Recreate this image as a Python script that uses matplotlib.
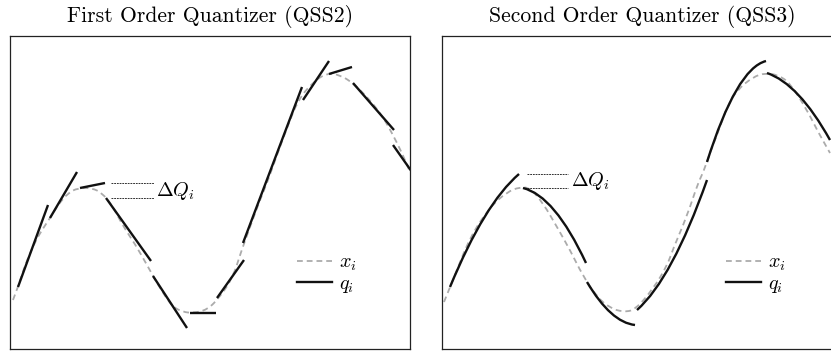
import matplotlib
matplotlib.use("Agg")
import matplotlib.pyplot as plt
from matplotlib.lines import Line2D
from matplotlib.path import Path
from matplotlib.patches import PathPatch

plt.rcParams["mathtext.fontset"] = "cm"

W, H = 831, 352

# --- QSS2: state x_i and first order quantized pieces q_i ---
qss2_x_t = [3, 8, 15, 25, 32, 40, 48, 58, 68, 82, 92, 102, 113, 125, 137, 147, 155,
            163, 173, 183, 197, 210, 223, 231, 240, 250, 257, 267, 277, 288, 303,
            317, 330, 343, 360, 373, 383, 392, 400]
qss2_x = [49, 62, 84, 107, 119, 131, 144, 156, 161, 161, 156, 144, 123, 105, 84, 66, 53,
          42, 37, 36, 39, 52, 72, 97, 122, 149, 166, 194, 221, 249, 267,
          276, 274, 266, 249, 232, 214, 196, 177]

# each piece: (t_start, t_end), (q_start, q_end)
qss2_seg_t = [(8, 38), (40, 67), (70, 95), (96, 141), (143, 177), (180, 206),
              (207, 234), (233, 292), (293, 319), (319, 342), (343, 384), (383, 402)]
qss2_seg_q = [(62, 144), (131, 177), (161, 166), (151, 88), (73, 21), (36, 36),
              (51, 89), (106, 262), (249, 288), (275, 282), (266, 219), (204, 177)]

# --- QSS3: state x_i and second order (parabolic) pieces q_i ---
qss3_x_t = [2, 11, 28, 48, 65, 78, 88, 101, 115, 128, 141, 155, 168, 181, 193, 211,
            225, 231, 245, 256, 261, 268, 278, 285, 295, 311, 323, 336, 348, 365,
            375, 388]
qss3_x = [47, 69, 112, 142, 157, 162, 161, 146, 122, 99, 73, 52, 41, 37, 39, 60,
          83, 100, 133, 166, 176, 196, 222, 242, 259, 272, 276, 274, 266, 239,
          219, 196]

# each piece: start, middle and end point
qss3_seg_t = [(8, 42.5, 77), (81, 112.5, 144), (145, 169, 193),
              (195, 230, 265), (265, 294.5, 324), (325, 356.5, 388)]
qss3_seg_q = [(62, 132, 175), (161, 138.5, 86), (67, 36, 24),
              (39, 87, 169), (187, 259, 288), (276, 254, 209)]

XCOL = "#ababab"
QCOL = "#111111"
X_DASH = (3.2, 2.2)


def smooth_path(ts, vs):
    # quadratic B-spline through the sampled points
    pts = list(zip(ts, vs))
    verts, codes = [pts[0]], [Path.MOVETO]
    for i in range(1, len(pts) - 1):
        mid = ((pts[i][0] + pts[i + 1][0]) / 2, (pts[i][1] + pts[i + 1][1]) / 2)
        verts += [pts[i], mid]
        codes += [Path.CURVE3, Path.CURVE3]
    verts.append(pts[-1])
    codes.append(Path.LINETO)
    return Path(verts, codes)


def parabola_path(ts, qs):
    # quadratic Bezier through start, middle and end
    ct = 2 * ts[1] - (ts[0] + ts[2]) / 2
    cq = 2 * qs[1] - (qs[0] + qs[2]) / 2
    return Path([(ts[0], qs[0]), (ct, cq), (ts[2], qs[2])],
                [Path.MOVETO, Path.CURVE3, Path.CURVE3])


def draw_panel(ax, title, x_t, x_v, seg_t, seg_q, curved, dq_piece, dq_span,
               dq_label_t, leg_x):
    ax.add_patch(PathPatch(smooth_path(x_t, x_v), fill=False, edgecolor=XCOL,
                           lw=1.3, linestyle=(0, X_DASH)))
    for ts, qs in zip(seg_t, seg_q):
        if curved:
            ax.add_patch(PathPatch(parabola_path(ts, qs), fill=False,
                                   edgecolor=QCOL, lw=1.7, capstyle="butt"))
        else:
            ax.plot(ts, qs, color=QCOL, lw=1.7, solid_capstyle="butt")

    # quantum jump between two consecutive pieces
    q_hi = seg_q[dq_piece][-1]
    q_lo = seg_q[dq_piece + 1][0]
    for lvl in (q_hi, q_lo):
        ax.plot(dq_span, [lvl, lvl], color="#222222", lw=0.65, dashes=(2, 1))
    ax.text(dq_label_t, (q_hi + q_lo) / 2, r"$\Delta Q_i$", fontsize=14.5,
            va="center", ha="left")

    handles = [Line2D([], [], color=XCOL, lw=1.3, dashes=X_DASH),
               Line2D([], [], color=QCOL, lw=1.7)]
    ax.legend(handles, [r"$x_i$", r"$q_i$"], loc="center left",
              bbox_to_anchor=(leg_x, 0.24), frameon=False, fontsize=14.5,
              handlelength=1.75, handletextpad=0.35, labelspacing=0.05,
              borderpad=0, borderaxespad=0)

    ax.set_xlim(0, 400)
    ax.set_ylim(0, 313)
    ax.set_xticks([])
    ax.set_yticks([])
    for sp in ax.spines.values():
        sp.set_linewidth(0.9)
        sp.set_color("#222222")
    ax.set_title(title, fontfamily="cmr10", fontsize=15.6, pad=10)


fig = plt.figure(figsize=(W / 100, H / 100), dpi=100)
ax1 = fig.add_axes([10 / W, 3 / H, 400 / W, 313 / H])
ax2 = fig.add_axes([442 / W, 3 / H, 400 / W, 313 / H])

draw_panel(ax1, "First Order Quantizer (QSS2)", qss2_x_t, qss2_x,
           qss2_seg_t, qss2_seg_q, False, 2, [101, 144], 146, 0.7175)
draw_panel(ax2, "Second Order Quantizer (QSS3)", qss3_x_t, qss3_x,
           qss3_seg_t, qss3_seg_q, True, 0, [85, 126], 129, 0.71)

fig.savefig("out.png", dpi=100)
